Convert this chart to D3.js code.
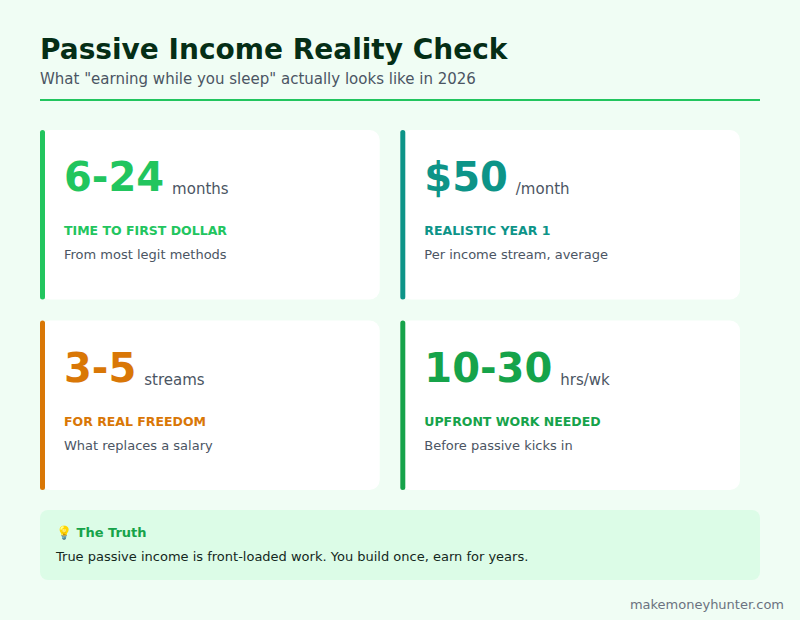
<!DOCTYPE html>
<html><head><meta charset="utf-8">
<script src="https://cdn.jsdelivr.net/npm/d3@7"></script>
<style>body{margin:0;background:#f0fdf4;font-family:"DejaVu Sans",sans-serif}</style>
</head><body><div id="chart"></div>
<script>
var values = ["6-24", "$50", "3-5", "10-30"]
var units = ["months", "/month", "streams", "hrs/wk"]
var labels = ["TIME TO FIRST DOLLAR", "REALISTIC YEAR 1", "FOR REAL FREEDOM", "UPFRONT WORK NEEDED"]
var descs = ["From most legit methods", "Per income stream, average", "What replaces a salary", "Before passive kicks in"]
var colors = ["#22c55e", "#0d9488", "#d97706", "#16a34a"]

var W = 800, H = 620
var svg = d3.select("#chart").append("svg").attr("width", W).attr("height", H)
svg.append("rect").attr("width", W).attr("height", H).attr("fill", "#f0fdf4")

svg.append("text").attr("x", 40).attr("y", 59).attr("font-size", 28).attr("font-weight", "bold")
  .attr("fill", "#052e16").text("Passive Income Reality Check")
svg.append("text").attr("x", 40).attr("y", 84).attr("font-size", 15).attr("fill", "#4b5563")
  .text('What "earning while you sleep" actually looks like in 2026')
svg.append("line").attr("x1", 40).attr("x2", 760).attr("y1", 100).attr("y2", 100)
  .attr("stroke", "#22c55e").attr("stroke-width", 2)

var col = d3.scaleBand().domain([0, 1]).range([40, 740]).paddingInner(20 / 350)
var row = d3.scaleBand().domain([0, 1]).range([130, 490]).paddingInner(20 / 180)
var cw = col.bandwidth(), ch = row.bandwidth()

var cards = svg.selectAll("g.card").data(values).enter().append("g")
  .attr("class", "card")
  .attr("transform", function(d, i){ return "translate(" + col(i % 2) + "," + row(Math.floor(i / 2)) + ")" })

cards.append("rect").attr("width", cw).attr("height", ch).attr("rx", 10).attr("fill", "#fff")
cards.append("rect").attr("width", 5).attr("height", ch).attr("rx", 2.5)
  .attr("fill", function(d, i){ return colors[i] })

cards.append("text").attr("x", 24).attr("y", 61)
  .attr("font-size", 40).attr("font-weight", "bold")
  .attr("fill", function(d, i){ return colors[i] })
  .each(function(d, i){
    var t = d3.select(this)
    t.append("tspan").text(d)
    t.append("tspan").attr("dx", 8).attr("dy", 3).attr("font-size", 15).attr("font-weight", "normal")
      .attr("fill", "#4b5563").text(units[i])
  })
cards.append("text").attr("x", 24).attr("y", 105).attr("font-size", 12.5).attr("font-weight", "bold")
  .attr("fill", function(d, i){ return colors[i] })
  .text(function(d, i){ return labels[i] })
cards.append("text").attr("x", 24).attr("y", 129).attr("font-size", 13).attr("fill", "#4b5563")
  .text(function(d, i){ return descs[i] })

svg.append("rect").attr("x", 40).attr("y", 510).attr("width", 720).attr("height", 70)
  .attr("rx", 8).attr("fill", "#dcfce7")
svg.append("text").attr("x", 56).attr("y", 537).attr("font-size", 13).attr("font-weight", "bold")
  .attr("fill", "#16a34a").text("💡 The Truth")
svg.append("text").attr("x", 56).attr("y", 561).attr("font-size", 13).attr("fill", "#14281d")
  .text("True passive income is front-loaded work. You build once, earn for years.")

svg.append("text").attr("x", 784).attr("y", 609).attr("text-anchor", "end").attr("font-size", 13)
  .attr("fill", "#6b7280").text("makemoneyhunter.com")
</script></body></html>
